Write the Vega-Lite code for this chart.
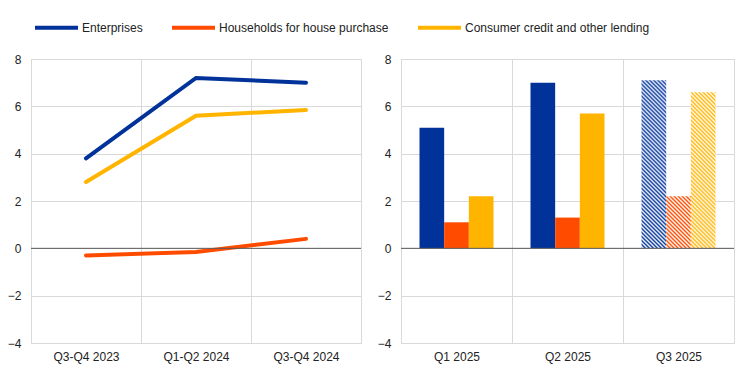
{
  "$schema": "https://vega.github.io/schema/vega-lite/v6.json",
  "padding": {"left": 6, "top": 3, "right": 5, "bottom": 5},
  "bounds": "flush",
  "spacing": 40,
  "config": {
    "font": "Liberation Sans",
    "view": {"stroke": "#d9d9d9"},
    "axis": {"labelFont": "Liberation Sans", "labelFontSize": 12, "labelColor": "#222222", "domain": false, "ticks": false, "gridColor": "#d9d9d9", "title": null}
  },
  "datasets": {
    "lines": [
      {"period": "Q3-Q4 2023", "series": "Enterprises", "value": 3.8},
      {"period": "Q1-Q2 2024", "series": "Enterprises", "value": 7.2},
      {"period": "Q3-Q4 2024", "series": "Enterprises", "value": 7.0},
      {"period": "Q3-Q4 2023", "series": "Households for house purchase", "value": -0.3},
      {"period": "Q1-Q2 2024", "series": "Households for house purchase", "value": -0.15},
      {"period": "Q3-Q4 2024", "series": "Households for house purchase", "value": 0.4},
      {"period": "Q3-Q4 2023", "series": "Consumer credit and other lending", "value": 2.8},
      {"period": "Q1-Q2 2024", "series": "Consumer credit and other lending", "value": 5.6},
      {"period": "Q3-Q4 2024", "series": "Consumer credit and other lending", "value": 5.85}
    ],
    "bars": [
      {"period": "Q1 2025", "series": "Enterprises", "value": 5.1},
      {"period": "Q1 2025", "series": "Households for house purchase", "value": 1.1},
      {"period": "Q1 2025", "series": "Consumer credit and other lending", "value": 2.2},
      {"period": "Q2 2025", "series": "Enterprises", "value": 7.0},
      {"period": "Q2 2025", "series": "Households for house purchase", "value": 1.3},
      {"period": "Q2 2025", "series": "Consumer credit and other lending", "value": 5.7},
      {"period": "Q3 2025", "series": "Enterprises", "value": 7.1},
      {"period": "Q3 2025", "series": "Households for house purchase", "value": 2.2},
      {"period": "Q3 2025", "series": "Consumer credit and other lending", "value": 6.6}
    ]
  },
  "hconcat": [
    {
      "width": 330,
      "height": 284,
      "layer": [
        {
          "data": {"name": "lines"},
          "mark": {"type": "line", "strokeWidth": 4, "strokeCap": "round"},
          "encoding": {
            "x": {"field": "period", "type": "ordinal", "sort": ["Q3-Q4 2023", "Q1-Q2 2024", "Q3-Q4 2024"], "bandPosition": 0.5, "scale": {"type": "band", "paddingInner": 0, "paddingOuter": 0}, "axis": {"grid": true, "tickBand": "extent", "labelPadding": 8, "labelAngle": 0}},
            "y": {"field": "value", "type": "quantitative", "scale": {"domain": [-4, 8], "nice": false}, "axis": {"values": [-4, -2, 0, 2, 4, 6, 8], "grid": true, "labelPadding": 10}},
            "color": {
              "field": "series", "type": "nominal",
              "scale": {"domain": ["Enterprises", "Households for house purchase", "Consumer credit and other lending"], "range": ["#003299", "#ff4b00", "#ffb400"]},
              "legend": {"orient": "none", "legendX": 2, "legendY": -55, "direction": "horizontal", "columns": 3, "title": null, "symbolType": "stroke", "symbolSize": 1849, "symbolStrokeWidth": 4, "labelFont": "Liberation Sans", "labelFontSize": 12, "labelColor": "#222222", "labelOffset": 2, "labelLimit": 0, "columnPadding": 21}
            }
          }
        },
        {
          "data": {"values": [{}]},
          "mark": {"type": "rule", "color": "#595959", "strokeWidth": 1},
          "encoding": {"y": {"datum": 0}}
        }
      ]
    },
    {
      "width": 333,
      "height": 284,
      "layer": [
        {
          "data": {"name": "bars"},
          "mark": {"type": "bar"},
          "encoding": {
            "x": {"field": "period", "type": "ordinal", "sort": ["Q1 2025", "Q2 2025", "Q3 2025"], "scale": {"paddingInner": 0, "paddingOuter": 0}, "axis": {"grid": true, "tickBand": "extent", "labelPadding": 8, "labelAngle": 0}},
            "xOffset": {"field": "series", "type": "nominal", "scale": {"domain": ["Enterprises", "Households for house purchase", "Consumer credit and other lending"], "paddingInner": 0, "paddingOuter": 0.75}},
            "y": {"field": "value", "type": "quantitative", "scale": {"domain": [-4, 8], "nice": false}, "axis": {"values": [-4, -2, 0, 2, 4, 6, 8], "grid": true, "labelPadding": 10}},
            "color": {
              "field": "series", "type": "nominal",
              "scale": {"domain": ["Enterprises", "Households for house purchase", "Consumer credit and other lending"], "range": ["#003299", "#ff4b00", "#ffb400"]},
              "legend": null,
              "condition": [
                {"test": "datum.period === 'Q3 2025' && datum.series === 'Enterprises'", "value": {"gradient": "linear", "x1": 0, "y1": 1, "x2": 0.1646, "y2": -0.1207, "stops": [
                  {"offset": 0, "color": "#003299"}, {"offset": 0.0104, "color": "#fff"}, {"offset": 0.0208, "color": "#003299"}, {"offset": 0.0313, "color": "#fff"}, {"offset": 0.0417, "color": "#003299"}, {"offset": 0.0521, "color": "#fff"}, {"offset": 0.0625, "color": "#003299"}, {"offset": 0.0729, "color": "#fff"}, {"offset": 0.0833, "color": "#003299"}, {"offset": 0.0938, "color": "#fff"}, {"offset": 0.1042, "color": "#003299"}, {"offset": 0.1146, "color": "#fff"}, {"offset": 0.125, "color": "#003299"}, {"offset": 0.1354, "color": "#fff"}, {"offset": 0.1458, "color": "#003299"}, {"offset": 0.1563, "color": "#fff"}, {"offset": 0.1667, "color": "#003299"}, {"offset": 0.1771, "color": "#fff"}, {"offset": 0.1875, "color": "#003299"}, {"offset": 0.1979, "color": "#fff"}, {"offset": 0.2083, "color": "#003299"}, {"offset": 0.2188, "color": "#fff"}, {"offset": 0.2292, "color": "#003299"}, {"offset": 0.2396, "color": "#fff"}, {"offset": 0.25, "color": "#003299"}, {"offset": 0.2604, "color": "#fff"}, {"offset": 0.2708, "color": "#003299"}, {"offset": 0.2813, "color": "#fff"}, {"offset": 0.2917, "color": "#003299"}, {"offset": 0.3021, "color": "#fff"}, {"offset": 0.3125, "color": "#003299"}, {"offset": 0.3229, "color": "#fff"}, {"offset": 0.3333, "color": "#003299"}, {"offset": 0.3438, "color": "#fff"}, {"offset": 0.3542, "color": "#003299"}, {"offset": 0.3646, "color": "#fff"}, {"offset": 0.375, "color": "#003299"}, {"offset": 0.3854, "color": "#fff"}, {"offset": 0.3958, "color": "#003299"}, {"offset": 0.4063, "color": "#fff"}, {"offset": 0.4167, "color": "#003299"}, {"offset": 0.4271, "color": "#fff"}, {"offset": 0.4375, "color": "#003299"}, {"offset": 0.4479, "color": "#fff"}, {"offset": 0.4583, "color": "#003299"}, {"offset": 0.4688, "color": "#fff"}, {"offset": 0.4792, "color": "#003299"}, {"offset": 0.4896, "color": "#fff"}, {"offset": 0.5, "color": "#003299"}, {"offset": 0.5104, "color": "#fff"}, {"offset": 0.5208, "color": "#003299"}, {"offset": 0.5313, "color": "#fff"}, {"offset": 0.5417, "color": "#003299"}, {"offset": 0.5521, "color": "#fff"}, {"offset": 0.5625, "color": "#003299"}, {"offset": 0.5729, "color": "#fff"}, {"offset": 0.5833, "color": "#003299"}, {"offset": 0.5938, "color": "#fff"}, {"offset": 0.6042, "color": "#003299"}, {"offset": 0.6146, "color": "#fff"}, {"offset": 0.625, "color": "#003299"}, {"offset": 0.6354, "color": "#fff"}, {"offset": 0.6458, "color": "#003299"}, {"offset": 0.6563, "color": "#fff"}, {"offset": 0.6667, "color": "#003299"}, {"offset": 0.6771, "color": "#fff"}, {"offset": 0.6875, "color": "#003299"}, {"offset": 0.6979, "color": "#fff"}, {"offset": 0.7083, "color": "#003299"}, {"offset": 0.7188, "color": "#fff"}, {"offset": 0.7292, "color": "#003299"}, {"offset": 0.7396, "color": "#fff"}, {"offset": 0.75, "color": "#003299"}, {"offset": 0.7604, "color": "#fff"}, {"offset": 0.7708, "color": "#003299"}, {"offset": 0.7813, "color": "#fff"}, {"offset": 0.7917, "color": "#003299"}, {"offset": 0.8021, "color": "#fff"}, {"offset": 0.8125, "color": "#003299"}, {"offset": 0.8229, "color": "#fff"}, {"offset": 0.8333, "color": "#003299"}, {"offset": 0.8438, "color": "#fff"}, {"offset": 0.8542, "color": "#003299"}, {"offset": 0.8646, "color": "#fff"}, {"offset": 0.875, "color": "#003299"}, {"offset": 0.8854, "color": "#fff"}, {"offset": 0.8958, "color": "#003299"}, {"offset": 0.9063, "color": "#fff"}, {"offset": 0.9167, "color": "#003299"}, {"offset": 0.9271, "color": "#fff"}, {"offset": 0.9375, "color": "#003299"}, {"offset": 0.9479, "color": "#fff"}, {"offset": 0.9583, "color": "#003299"}, {"offset": 0.9688, "color": "#fff"}, {"offset": 0.9792, "color": "#003299"}, {"offset": 0.9896, "color": "#fff"}, {"offset": 1, "color": "#003299"}
                ]}},
                {"test": "datum.period === 'Q3 2025' && datum.series === 'Households for house purchase'", "value": {"gradient": "linear", "x1": 0, "y1": 1, "x2": 1.4279, "y2": -2.0155, "stops": [
                  {"offset": 0, "color": "#ff4b00"}, {"offset": 0.0104, "color": "#fff"}, {"offset": 0.0208, "color": "#ff4b00"}, {"offset": 0.0313, "color": "#fff"}, {"offset": 0.0417, "color": "#ff4b00"}, {"offset": 0.0521, "color": "#fff"}, {"offset": 0.0625, "color": "#ff4b00"}, {"offset": 0.0729, "color": "#fff"}, {"offset": 0.0833, "color": "#ff4b00"}, {"offset": 0.0938, "color": "#fff"}, {"offset": 0.1042, "color": "#ff4b00"}, {"offset": 0.1146, "color": "#fff"}, {"offset": 0.125, "color": "#ff4b00"}, {"offset": 0.1354, "color": "#fff"}, {"offset": 0.1458, "color": "#ff4b00"}, {"offset": 0.1563, "color": "#fff"}, {"offset": 0.1667, "color": "#ff4b00"}, {"offset": 0.1771, "color": "#fff"}, {"offset": 0.1875, "color": "#ff4b00"}, {"offset": 0.1979, "color": "#fff"}, {"offset": 0.2083, "color": "#ff4b00"}, {"offset": 0.2188, "color": "#fff"}, {"offset": 0.2292, "color": "#ff4b00"}, {"offset": 0.2396, "color": "#fff"}, {"offset": 0.25, "color": "#ff4b00"}, {"offset": 0.2604, "color": "#fff"}, {"offset": 0.2708, "color": "#ff4b00"}, {"offset": 0.2813, "color": "#fff"}, {"offset": 0.2917, "color": "#ff4b00"}, {"offset": 0.3021, "color": "#fff"}, {"offset": 0.3125, "color": "#ff4b00"}, {"offset": 0.3229, "color": "#fff"}, {"offset": 0.3333, "color": "#ff4b00"}, {"offset": 0.3438, "color": "#fff"}, {"offset": 0.3542, "color": "#ff4b00"}, {"offset": 0.3646, "color": "#fff"}, {"offset": 0.375, "color": "#ff4b00"}, {"offset": 0.3854, "color": "#fff"}, {"offset": 0.3958, "color": "#ff4b00"}, {"offset": 0.4063, "color": "#fff"}, {"offset": 0.4167, "color": "#ff4b00"}, {"offset": 0.4271, "color": "#fff"}, {"offset": 0.4375, "color": "#ff4b00"}, {"offset": 0.4479, "color": "#fff"}, {"offset": 0.4583, "color": "#ff4b00"}, {"offset": 0.4688, "color": "#fff"}, {"offset": 0.4792, "color": "#ff4b00"}, {"offset": 0.4896, "color": "#fff"}, {"offset": 0.5, "color": "#ff4b00"}, {"offset": 0.5104, "color": "#fff"}, {"offset": 0.5208, "color": "#ff4b00"}, {"offset": 0.5313, "color": "#fff"}, {"offset": 0.5417, "color": "#ff4b00"}, {"offset": 0.5521, "color": "#fff"}, {"offset": 0.5625, "color": "#ff4b00"}, {"offset": 0.5729, "color": "#fff"}, {"offset": 0.5833, "color": "#ff4b00"}, {"offset": 0.5938, "color": "#fff"}, {"offset": 0.6042, "color": "#ff4b00"}, {"offset": 0.6146, "color": "#fff"}, {"offset": 0.625, "color": "#ff4b00"}, {"offset": 0.6354, "color": "#fff"}, {"offset": 0.6458, "color": "#ff4b00"}, {"offset": 0.6563, "color": "#fff"}, {"offset": 0.6667, "color": "#ff4b00"}, {"offset": 0.6771, "color": "#fff"}, {"offset": 0.6875, "color": "#ff4b00"}, {"offset": 0.6979, "color": "#fff"}, {"offset": 0.7083, "color": "#ff4b00"}, {"offset": 0.7188, "color": "#fff"}, {"offset": 0.7292, "color": "#ff4b00"}, {"offset": 0.7396, "color": "#fff"}, {"offset": 0.75, "color": "#ff4b00"}, {"offset": 0.7604, "color": "#fff"}, {"offset": 0.7708, "color": "#ff4b00"}, {"offset": 0.7813, "color": "#fff"}, {"offset": 0.7917, "color": "#ff4b00"}, {"offset": 0.8021, "color": "#fff"}, {"offset": 0.8125, "color": "#ff4b00"}, {"offset": 0.8229, "color": "#fff"}, {"offset": 0.8333, "color": "#ff4b00"}, {"offset": 0.8438, "color": "#fff"}, {"offset": 0.8542, "color": "#ff4b00"}, {"offset": 0.8646, "color": "#fff"}, {"offset": 0.875, "color": "#ff4b00"}, {"offset": 0.8854, "color": "#fff"}, {"offset": 0.8958, "color": "#ff4b00"}, {"offset": 0.9063, "color": "#fff"}, {"offset": 0.9167, "color": "#ff4b00"}, {"offset": 0.9271, "color": "#fff"}, {"offset": 0.9375, "color": "#ff4b00"}, {"offset": 0.9479, "color": "#fff"}, {"offset": 0.9583, "color": "#ff4b00"}, {"offset": 0.9688, "color": "#fff"}, {"offset": 0.9792, "color": "#ff4b00"}, {"offset": 0.9896, "color": "#fff"}, {"offset": 1, "color": "#ff4b00"}
                ]}},
                {"test": "datum.period === 'Q3 2025' && datum.series === 'Consumer credit and other lending'", "value": {"gradient": "linear", "x1": 0, "y1": 1, "x2": 0.1897, "y2": -0.2014, "stops": [
                  {"offset": 0, "color": "#ffb400"}, {"offset": 0.0104, "color": "#fff"}, {"offset": 0.0208, "color": "#ffb400"}, {"offset": 0.0313, "color": "#fff"}, {"offset": 0.0417, "color": "#ffb400"}, {"offset": 0.0521, "color": "#fff"}, {"offset": 0.0625, "color": "#ffb400"}, {"offset": 0.0729, "color": "#fff"}, {"offset": 0.0833, "color": "#ffb400"}, {"offset": 0.0938, "color": "#fff"}, {"offset": 0.1042, "color": "#ffb400"}, {"offset": 0.1146, "color": "#fff"}, {"offset": 0.125, "color": "#ffb400"}, {"offset": 0.1354, "color": "#fff"}, {"offset": 0.1458, "color": "#ffb400"}, {"offset": 0.1563, "color": "#fff"}, {"offset": 0.1667, "color": "#ffb400"}, {"offset": 0.1771, "color": "#fff"}, {"offset": 0.1875, "color": "#ffb400"}, {"offset": 0.1979, "color": "#fff"}, {"offset": 0.2083, "color": "#ffb400"}, {"offset": 0.2188, "color": "#fff"}, {"offset": 0.2292, "color": "#ffb400"}, {"offset": 0.2396, "color": "#fff"}, {"offset": 0.25, "color": "#ffb400"}, {"offset": 0.2604, "color": "#fff"}, {"offset": 0.2708, "color": "#ffb400"}, {"offset": 0.2813, "color": "#fff"}, {"offset": 0.2917, "color": "#ffb400"}, {"offset": 0.3021, "color": "#fff"}, {"offset": 0.3125, "color": "#ffb400"}, {"offset": 0.3229, "color": "#fff"}, {"offset": 0.3333, "color": "#ffb400"}, {"offset": 0.3438, "color": "#fff"}, {"offset": 0.3542, "color": "#ffb400"}, {"offset": 0.3646, "color": "#fff"}, {"offset": 0.375, "color": "#ffb400"}, {"offset": 0.3854, "color": "#fff"}, {"offset": 0.3958, "color": "#ffb400"}, {"offset": 0.4063, "color": "#fff"}, {"offset": 0.4167, "color": "#ffb400"}, {"offset": 0.4271, "color": "#fff"}, {"offset": 0.4375, "color": "#ffb400"}, {"offset": 0.4479, "color": "#fff"}, {"offset": 0.4583, "color": "#ffb400"}, {"offset": 0.4688, "color": "#fff"}, {"offset": 0.4792, "color": "#ffb400"}, {"offset": 0.4896, "color": "#fff"}, {"offset": 0.5, "color": "#ffb400"}, {"offset": 0.5104, "color": "#fff"}, {"offset": 0.5208, "color": "#ffb400"}, {"offset": 0.5313, "color": "#fff"}, {"offset": 0.5417, "color": "#ffb400"}, {"offset": 0.5521, "color": "#fff"}, {"offset": 0.5625, "color": "#ffb400"}, {"offset": 0.5729, "color": "#fff"}, {"offset": 0.5833, "color": "#ffb400"}, {"offset": 0.5938, "color": "#fff"}, {"offset": 0.6042, "color": "#ffb400"}, {"offset": 0.6146, "color": "#fff"}, {"offset": 0.625, "color": "#ffb400"}, {"offset": 0.6354, "color": "#fff"}, {"offset": 0.6458, "color": "#ffb400"}, {"offset": 0.6563, "color": "#fff"}, {"offset": 0.6667, "color": "#ffb400"}, {"offset": 0.6771, "color": "#fff"}, {"offset": 0.6875, "color": "#ffb400"}, {"offset": 0.6979, "color": "#fff"}, {"offset": 0.7083, "color": "#ffb400"}, {"offset": 0.7188, "color": "#fff"}, {"offset": 0.7292, "color": "#ffb400"}, {"offset": 0.7396, "color": "#fff"}, {"offset": 0.75, "color": "#ffb400"}, {"offset": 0.7604, "color": "#fff"}, {"offset": 0.7708, "color": "#ffb400"}, {"offset": 0.7813, "color": "#fff"}, {"offset": 0.7917, "color": "#ffb400"}, {"offset": 0.8021, "color": "#fff"}, {"offset": 0.8125, "color": "#ffb400"}, {"offset": 0.8229, "color": "#fff"}, {"offset": 0.8333, "color": "#ffb400"}, {"offset": 0.8438, "color": "#fff"}, {"offset": 0.8542, "color": "#ffb400"}, {"offset": 0.8646, "color": "#fff"}, {"offset": 0.875, "color": "#ffb400"}, {"offset": 0.8854, "color": "#fff"}, {"offset": 0.8958, "color": "#ffb400"}, {"offset": 0.9063, "color": "#fff"}, {"offset": 0.9167, "color": "#ffb400"}, {"offset": 0.9271, "color": "#fff"}, {"offset": 0.9375, "color": "#ffb400"}, {"offset": 0.9479, "color": "#fff"}, {"offset": 0.9583, "color": "#ffb400"}, {"offset": 0.9688, "color": "#fff"}, {"offset": 0.9792, "color": "#ffb400"}, {"offset": 0.9896, "color": "#fff"}, {"offset": 1, "color": "#ffb400"}
                ]}}
              ]
            }
          }
        },
        {
          "data": {"values": [{}]},
          "mark": {"type": "rule", "color": "#595959", "strokeWidth": 1},
          "encoding": {"y": {"datum": 0}}
        }
      ]
    }
  ],
  "resolve": {"scale": {"color": "independent", "x": "independent", "y": "independent", "xOffset": "independent"}, "legend": {"color": "independent"}}
}
